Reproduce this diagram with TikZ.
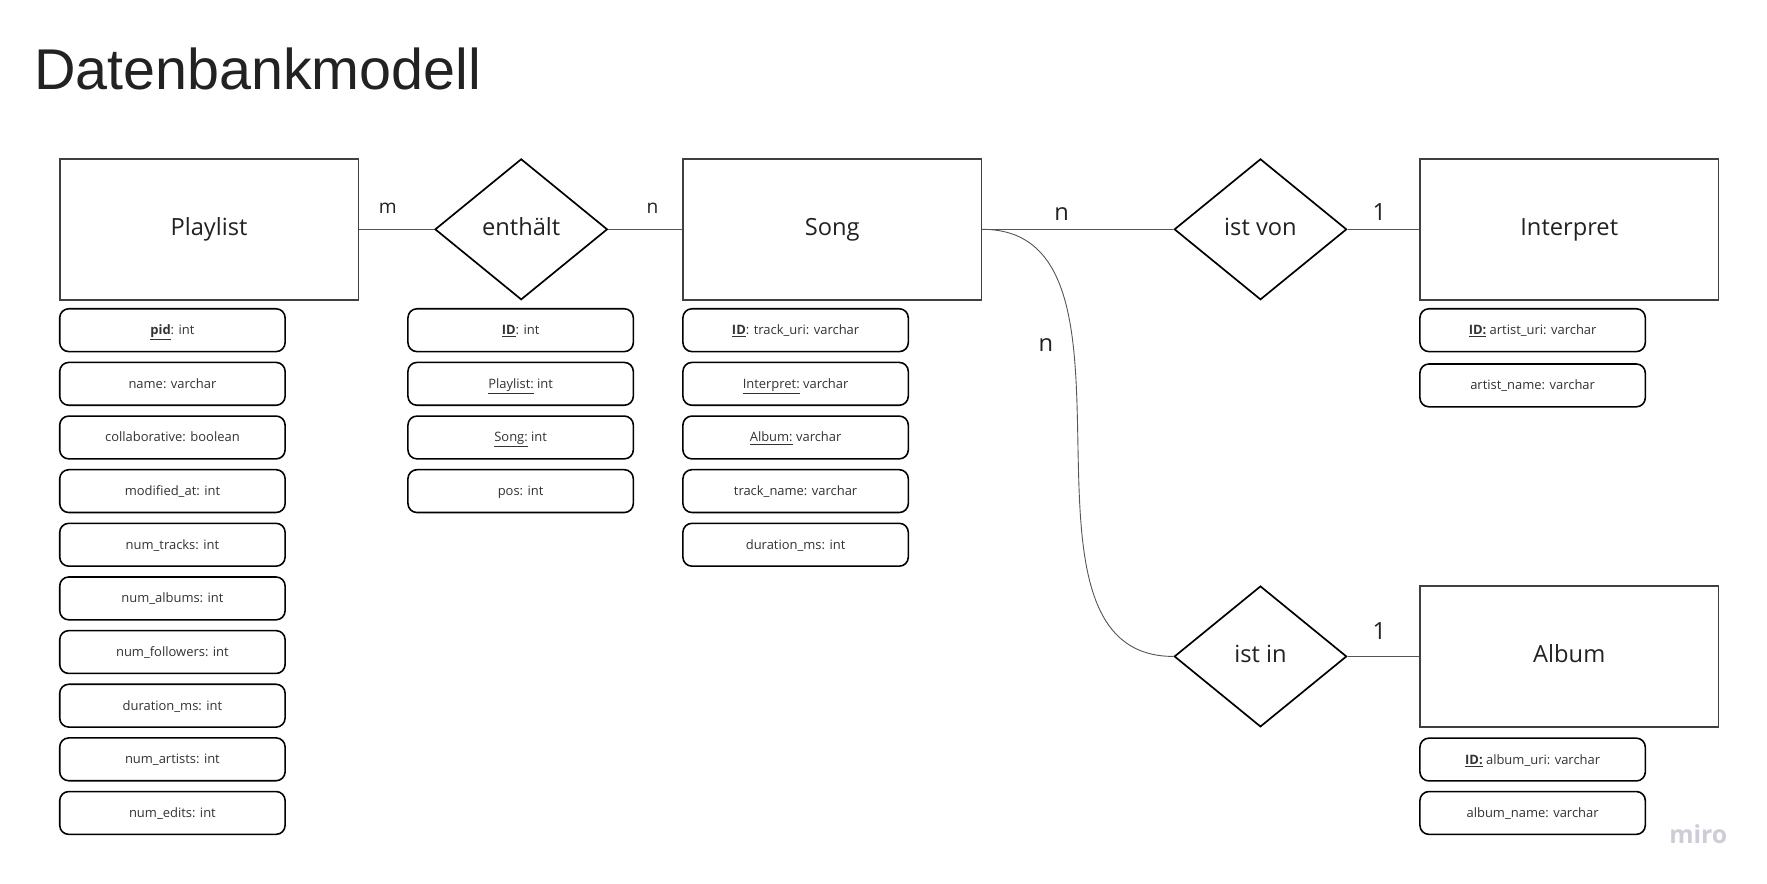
\documentclass[tikz,border=0pt]{standalone}
\usepackage{fontspec}
\setmainfont{Open Sans}
\newfontfamily\titlefont{Liberation Sans}
\usetikzlibrary{shapes.geometric}

\definecolor{boxline}{HTML}{404040}
\definecolor{inktext}{HTML}{222222}
\definecolor{attrtext}{HTML}{333333}
\definecolor{linkgray}{HTML}{555555}
\definecolor{logogray}{HTML}{CDCDD8}

\tikzset{
  entity/.style={draw=boxline, line width=1.5pt, minimum width=265pt, minimum height=125pt,
    inner sep=0pt, text height=16pt, text depth=5pt, text=inktext, font=\fontsize{21}{25}\selectfont},
  relation/.style={draw=black, diamond, line width=1.5pt, minimum width=153pt, minimum height=125pt,
    inner sep=0pt, text height=16pt, text depth=5pt, text=inktext, font=\fontsize{21}{25}\selectfont},
  attr/.style={draw=black, rounded corners=8pt, line width=1.4pt, minimum width=200pt, minimum height=38pt,
    inner sep=0pt, text height=8pt, text depth=0pt, text=attrtext, font=\fontsize{11.5}{14}\selectfont},
  link/.style={draw=linkgray, line width=0.8pt},
  cardsmall/.style={inner sep=0pt, text=inktext, font=\fontsize{17}{20}\selectfont},
  cardbig/.style={inner sep=0pt, text=inktext, font=\fontsize{21}{25}\selectfont}
}

\begin{document}
\begin{tikzpicture}[x=1pt,y=-1pt]

\useasboundingbox[fill=white] (0,0) rectangle (1568,784);

\node[anchor=base west, inner sep=0pt, text=inktext, font=\titlefont\fontsize{51}{60}\selectfont] (title) at (30,79) {Datenbankmodell};

\node[entity] (playlist) at (185.5,203.5) {Playlist};
\node[relation] (enthaelt) at (462.5,203.5) {enthält};
\node[entity] (song) at (738.5,203.5) {Song};
\node[relation] (istvon) at (1118.5,203.5) {ist von};
\node[entity] (interpret) at (1392.5,203.5) {Interpret};
\node[relation] (istin) at (1118.5,582.5) {ist in};
\node[entity] (album) at (1392.5,582.5) {Album};

\node[attr] (pl1) at (153,293) {\underline{\textbf{pid}}: int};
\node[attr] (pl2) at (153,340.6) {name: varchar};
\node[attr] (pl3) at (153,388.2) {collaborative: boolean};
\node[attr] (pl4) at (153,435.8) {modified\_at: int};
\node[attr] (pl5) at (153,483.4) {num\_tracks: int};
\node[attr] (pl6) at (153,531) {num\_albums: int};
\node[attr] (pl7) at (153,578.6) {num\_followers: int};
\node[attr] (pl8) at (153,626.2) {duration\_ms: int};
\node[attr] (pl9) at (153,673.8) {num\_artists: int};
\node[attr] (pl10) at (153,721.4) {num\_edits: int};

\node[attr] (en1) at (462,293) {\underline{\textbf{ID}}: int};
\node[attr] (en2) at (462,340.6) {\underline{Playlist:} int};
\node[attr] (en3) at (462,388.2) {\underline{Song:} int};
\node[attr] (en4) at (462,435.8) {pos: int};

\node[attr] (so1) at (706,293) {\underline{\textbf{ID}}: track\_uri: varchar};
\node[attr] (so2) at (706,340.6) {\underline{Interpret:} varchar};
\node[attr] (so3) at (706,388.2) {\underline{Album:} varchar};
\node[attr] (so4) at (706,435.8) {track\_name: varchar};
\node[attr] (so5) at (706,483.4) {duration\_ms: int};

\node[attr] (in1) at (1360,293) {\underline{\textbf{ID:}} artist\_uri: varchar};
\node[attr] (in2) at (1360,342) {artist\_name: varchar};

\node[attr] (al1) at (1360,674) {\underline{\textbf{ID:}} album\_uri: varchar};
\node[attr] (al2) at (1360,721.4) {album\_name: varchar};

\draw[link] (playlist.east) -- (enthaelt.west);
\draw[link] (enthaelt.east) -- (song.west);
\draw[link] (song.east) -- (istvon.west);
\draw[link] (istvon.east) -- (interpret.west);
\draw[link] (song.east) to[out=0,in=180] (istin.west);
\draw[link] (istin.east) -- (album.west);

\node[cardsmall] (cm) at (344,185) {m};
\node[cardsmall] (cn) at (579,185) {n};
\node[cardbig] (cvon) at (942,190) {n};
\node[cardbig] (cint) at (1224,188) {1};
\node[cardbig] (cin) at (928,306) {n};
\node[cardbig] (calb) at (1224,560) {1};

\node[inner sep=0pt, text=logogray, font=\fontsize{22}{26}\selectfont\bfseries] (logo) at (1507,740) {miro};

\end{tikzpicture}
\end{document}
